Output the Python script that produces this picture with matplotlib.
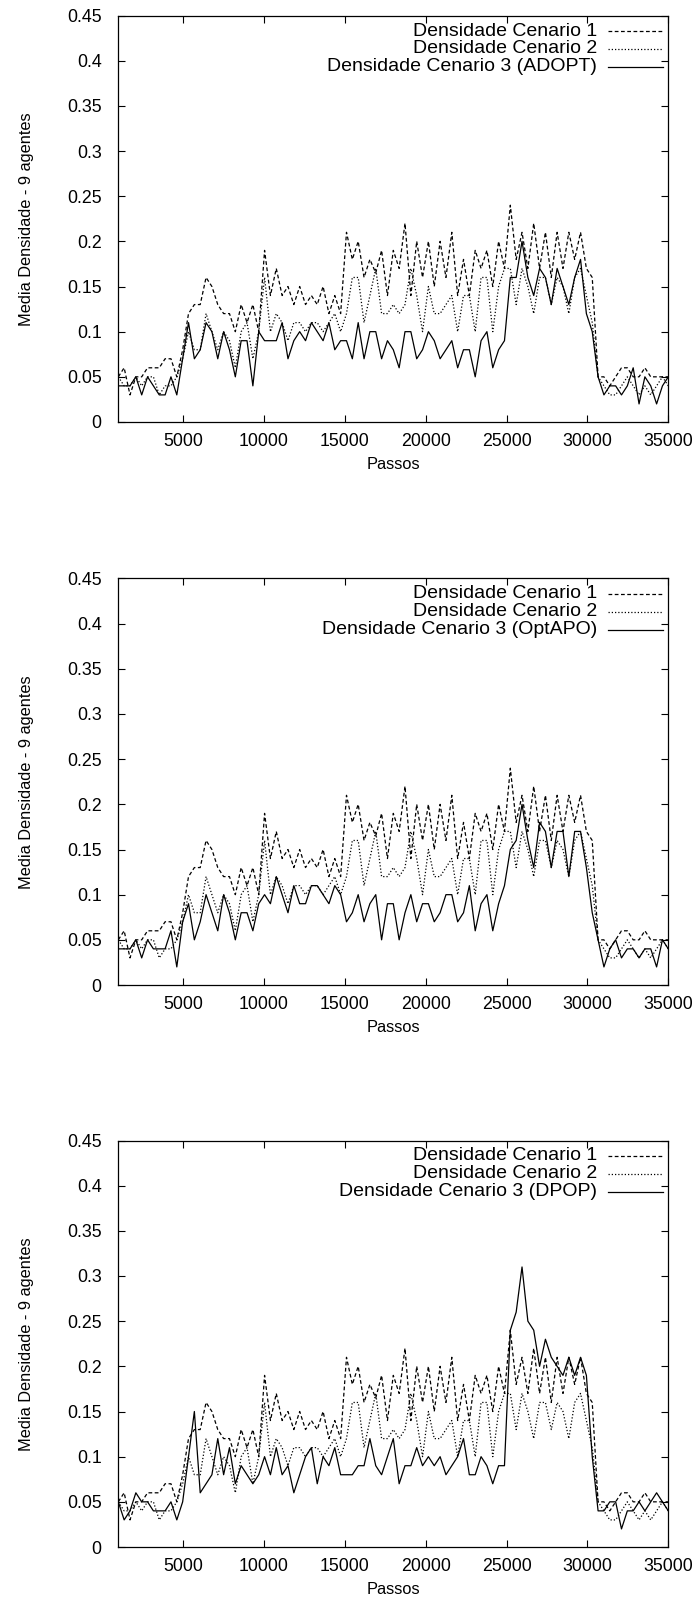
import numpy as np
import matplotlib
matplotlib.use("Agg")
import matplotlib.pyplot as plt

plt.rcParams['font.family'] = ['Liberation Sans', 'DejaVu Sans']

# x positions (simulation steps): 95 samples from 1000 to 35000
passos = np.linspace(1000, 35000, 95)

cenario1 = [0.05, 0.06, 0.03, 0.05, 0.05, 0.06, 0.06, 0.06, 0.07, 0.07,
            0.05, 0.08, 0.12, 0.13, 0.13, 0.16, 0.15, 0.13, 0.12, 0.12,
            0.10, 0.13, 0.11, 0.13, 0.10, 0.19, 0.14, 0.17, 0.14, 0.15,
            0.13, 0.15, 0.13, 0.14, 0.13, 0.15, 0.12, 0.14, 0.12, 0.21,
            0.18, 0.20, 0.16, 0.18, 0.165, 0.19, 0.14, 0.19, 0.17, 0.22,
            0.14, 0.20, 0.16, 0.20, 0.15, 0.20, 0.16, 0.21, 0.14, 0.18,
            0.14, 0.19, 0.17, 0.19, 0.15, 0.20, 0.17, 0.24, 0.18, 0.21,
            0.17, 0.22, 0.17, 0.21, 0.16, 0.21, 0.17, 0.21, 0.18, 0.21,
            0.17, 0.16, 0.05, 0.05, 0.04, 0.05, 0.06, 0.06, 0.05, 0.05,
            0.06, 0.05, 0.05, 0.05, 0.05]

cenario2 = [0.05, 0.04, 0.04, 0.05, 0.04, 0.05, 0.05, 0.03, 0.04, 0.04,
            0.05, 0.07, 0.10, 0.08, 0.08, 0.12, 0.10, 0.08, 0.10, 0.09,
            0.06, 0.10, 0.11, 0.07, 0.10, 0.16, 0.10, 0.12, 0.11, 0.09,
            0.11, 0.11, 0.10, 0.11, 0.11, 0.10, 0.11, 0.12, 0.10, 0.12,
            0.16, 0.16, 0.11, 0.14, 0.17, 0.12, 0.12, 0.13, 0.12, 0.13,
            0.17, 0.14, 0.10, 0.15, 0.12, 0.12, 0.13, 0.14, 0.10, 0.14,
            0.14, 0.10, 0.16, 0.16, 0.10, 0.15, 0.17, 0.17, 0.13, 0.17,
            0.15, 0.12, 0.16, 0.16, 0.13, 0.16, 0.15, 0.12, 0.16, 0.17,
            0.14, 0.11, 0.05, 0.04, 0.03, 0.03, 0.04, 0.05, 0.04, 0.03,
            0.04, 0.03, 0.04, 0.05, 0.04]

adopt = [0.04, 0.04, 0.04, 0.05, 0.03, 0.05, 0.04, 0.03, 0.03, 0.05,
         0.03, 0.07, 0.11, 0.07, 0.08, 0.11, 0.10, 0.07, 0.10, 0.08,
         0.05, 0.09, 0.09, 0.04, 0.10, 0.09, 0.09, 0.09, 0.11, 0.07,
         0.09, 0.10, 0.09, 0.11, 0.10, 0.09, 0.11, 0.08, 0.09, 0.09,
         0.07, 0.11, 0.07, 0.10, 0.10, 0.07, 0.09, 0.08, 0.06, 0.10,
         0.10, 0.07, 0.08, 0.10, 0.09, 0.07, 0.08, 0.09, 0.06, 0.08,
         0.08, 0.05, 0.09, 0.10, 0.06, 0.08, 0.09, 0.16, 0.16, 0.20,
         0.16, 0.14, 0.17, 0.16, 0.13, 0.17, 0.15, 0.13, 0.16, 0.18,
         0.12, 0.10, 0.05, 0.03, 0.04, 0.04, 0.03, 0.04, 0.06, 0.02,
         0.05, 0.04, 0.02, 0.04, 0.05]

optapo = [0.04, 0.04, 0.04, 0.05, 0.03, 0.05, 0.04, 0.04, 0.04, 0.06,
          0.02, 0.07, 0.09, 0.05, 0.07, 0.10, 0.08, 0.06, 0.10, 0.08,
          0.05, 0.08, 0.08, 0.06, 0.09, 0.10, 0.09, 0.12, 0.10, 0.08,
          0.11, 0.09, 0.09, 0.11, 0.11, 0.10, 0.09, 0.11, 0.10, 0.07,
          0.08, 0.10, 0.07, 0.09, 0.10, 0.05, 0.09, 0.09, 0.05, 0.08,
          0.10, 0.07, 0.09, 0.09, 0.07, 0.08, 0.10, 0.10, 0.07, 0.08,
          0.11, 0.06, 0.09, 0.10, 0.06, 0.09, 0.11, 0.15, 0.16, 0.20,
          0.16, 0.13, 0.18, 0.17, 0.13, 0.17, 0.17, 0.12, 0.17, 0.17,
          0.13, 0.08, 0.05, 0.02, 0.04, 0.05, 0.03, 0.04, 0.04, 0.03,
          0.04, 0.04, 0.02, 0.05, 0.04]

dpop = [0.05, 0.03, 0.04, 0.06, 0.05, 0.05, 0.04, 0.04, 0.04, 0.05,
        0.03, 0.05, 0.10, 0.15, 0.06, 0.07, 0.08, 0.12, 0.08, 0.11,
        0.07, 0.09, 0.08, 0.07, 0.08, 0.10, 0.08, 0.11, 0.08, 0.09,
        0.06, 0.08, 0.10, 0.11, 0.07, 0.10, 0.09, 0.11, 0.08, 0.08,
        0.08, 0.09, 0.09, 0.12, 0.09, 0.08, 0.10, 0.12, 0.07, 0.09,
        0.09, 0.11, 0.09, 0.10, 0.09, 0.10, 0.08, 0.09, 0.10, 0.12,
        0.08, 0.08, 0.10, 0.09, 0.07, 0.09, 0.09, 0.24, 0.26, 0.31,
        0.25, 0.24, 0.20, 0.23, 0.21, 0.20, 0.19, 0.21, 0.19, 0.21,
        0.19, 0.10, 0.04, 0.04, 0.05, 0.05, 0.02, 0.04, 0.04, 0.05,
        0.04, 0.05, 0.06, 0.05, 0.04]

cenario3_series = [adopt, optapo, dpop]
cenario3_names = ["ADOPT", "OptAPO", "DPOP"]

legend_labels = ["Densidade Cenario 1", "Densidade Cenario 2"]
xticks = [5000, 10000, 15000, 20000, 25000, 30000, 35000]
yticks = [0, 0.05, 0.1, 0.15, 0.2, 0.25, 0.3, 0.35, 0.4, 0.45]
ytick_labels = ["0", "0.05", "0.1", "0.15", "0.2", "0.25", "0.3", "0.35", "0.4", "0.45"]

W, H = 700, 1614
fig = plt.figure(figsize=(W / 100, H / 100), dpi=100)

left_px, right_px = 118.3, 668.3
panels_px = [(15.5, 422.0), (578.5, 985.0), (1140.5, 1547.0)]

ls1 = (0, (3.0, 2.0))
ls2 = (0, (1.0, 1.6))
lw = 0.9
fs_tick = 12.8
fs_label = 11.8
fs_leg = 14.0

for k, (top, bot) in enumerate(panels_px):
    ax = fig.add_axes([left_px / W, 1 - bot / H, (right_px - left_px) / W, (bot - top) / H])
    ax.plot(passos, cenario1, color='black', lw=lw, ls=ls1)
    ax.plot(passos, cenario2, color='black', lw=lw, ls=ls2)
    ax.plot(passos, cenario3_series[k], color='black', lw=lw, ls='-')
    ax.set_xlim(1000, 35000)
    ax.set_ylim(0, 0.45)
    ax.set_xticks(xticks)
    ax.set_xticklabels([str(t) for t in xticks])
    ax.set_yticks(yticks)
    ax.set_yticklabels(ytick_labels)
    ax.tick_params(axis='both', direction='in', length=5, width=0.8,
                   top=True, right=True, labelsize=fs_tick, colors='black')
    ax.tick_params(axis='y', pad=12)
    ax.tick_params(axis='x', pad=8)
    for s in ax.spines.values():
        s.set_linewidth(0.9)
    ax.set_xlabel("Passos", fontsize=fs_label, labelpad=5)
    ax.set_ylabel("Media Densidade - 9 agentes", fontsize=fs_label, labelpad=24)

    labels = legend_labels + ["Densidade Cenario 3 (%s)" % cenario3_names[k]]
    styles = [ls1, ls2, '-']
    hpx = bot - top
    for j, (lab, st) in enumerate(zip(labels, styles)):
        yy = 1 - (15.5 + 17.8 * j) / hpx
        ax.text(0.870, yy, lab, transform=ax.transAxes, ha='right', va='center',
                fontsize=fs_leg)
        ax.plot([0.890, 0.990], [yy, yy], transform=ax.transAxes, color='black',
                lw=lw, ls=st, clip_on=False)

fig.savefig("out.png", dpi=100)
